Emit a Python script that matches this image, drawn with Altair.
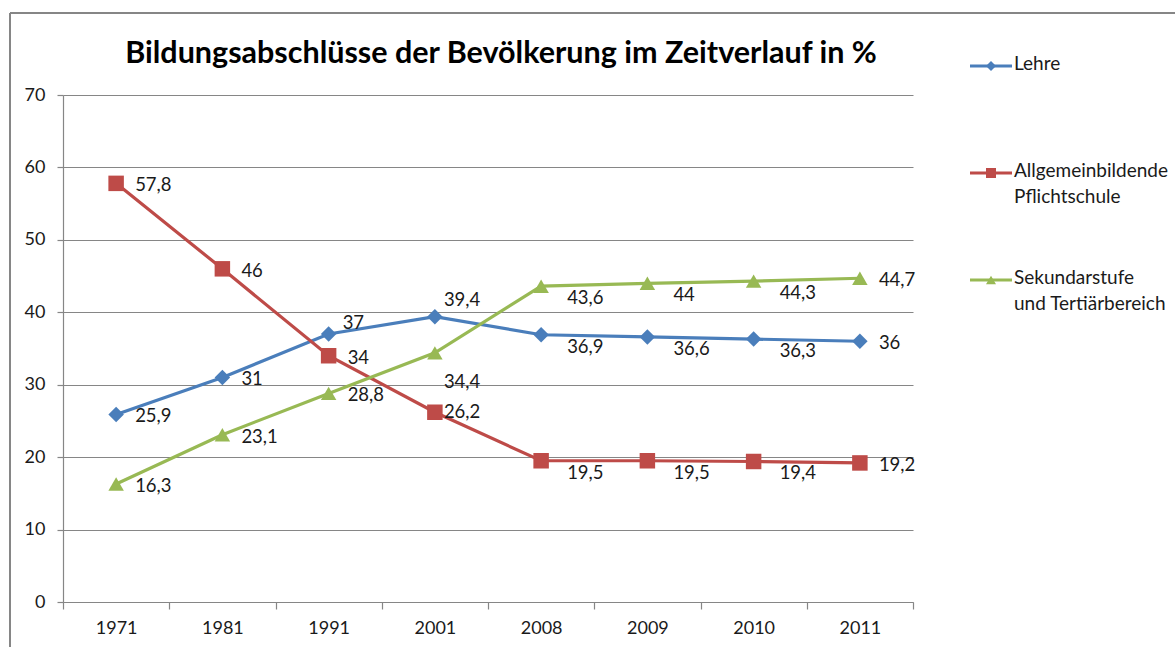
import altair as alt
import pandas as pd

title_text = "Bildungsabschlüsse der Bevölkerung im Zeitverlauf in %"
years = ["1971", "1981", "1991", "2001", "2008", "2009", "2010", "2011"]
series_names = ["Lehre", "Allgemeinbildende Pflichtschule", "Sekundarstufe und Tertiärbereich"]
legend_labels = ["Lehre", "Allgemeinbildende\nPflichtschule", "Sekundarstufe\nund Tertiärbereich"]
lehre = [25.9, 31, 37, 39.4, 36.9, 36.6, 36.3, 36]
pflicht = [57.8, 46, 34, 26.2, 19.5, 19.5, 19.4, 19.2]
sek = [16.3, 23.1, 28.8, 34.4, 43.6, 44, 44.3, 44.7]
colors = ["#4A7EBB", "#BE4B48", "#98B954"]
shapes = ["diamond", "square", "triangle-up"]

rows = []
for name, vals in zip(series_names, [lehre, pflicht, sek]):
    for y, v in zip(years, vals):
        rows.append({"year": y, "series": name, "value": v})
df = pd.DataFrame(rows)
legend_df = pd.DataFrame({"series": series_names, "label": legend_labels})

FONT = "Lato"
GRAY = "#868686"

color = alt.Color("series:N", scale=alt.Scale(domain=series_names, range=colors), legend=None)
shape = alt.Shape("series:N", scale=alt.Scale(domain=series_names, range=shapes), legend=None)

X = alt.X("year:O", scale=alt.Scale(type="band", paddingInner=0, paddingOuter=0, domain=years),
          axis=alt.Axis(title=None, labelAngle=0, tickBand="extent", grid=False))
Y = alt.Y("value:Q", scale=alt.Scale(domain=[0, 70], nice=False),
          axis=alt.Axis(title=None, values=list(range(0, 71, 10)), grid=True))

base = alt.Chart(df).transform_calculate(label="replace(toString(datum.value), '.', ',')")

lines = base.mark_line(strokeWidth=3.2).encode(x=X, y=Y, color=color, detail="series:N")
points = base.mark_point(filled=True, size=240, opacity=1).encode(x=X, y=Y, color=color, shape=shape)


def labels(expr, dx, dy):
    return base.transform_filter(expr).mark_text(
        align="left", baseline="middle", dx=dx, dy=dy, font=FONT, fontSize=18.5, color="#1a1a1a"
    ).encode(x=X, y=Y, text="label:N")


lab_layers = [
    labels("datum.year=='1971' || datum.year=='1981' || datum.year=='2011' || (datum.year=='1991' && datum.series!='Lehre')", 19, 2),
    labels("datum.year=='1991' && datum.series=='Lehre'", 14, -11),
    labels("datum.year=='2001' && datum.series=='Allgemeinbildende Pflichtschule'", 9, 0),
    labels("datum.year=='2001' && datum.series=='Lehre'", 9, -17),
    labels("datum.year=='2001' && datum.series=='Sekundarstufe und Tertiärbereich'", 9, 29),
    labels("datum.year=='2008' || datum.year=='2009' || datum.year=='2010'", 26, 12),
]

main = alt.layer(lines, points, *lab_layers)

legY = alt.Y("series:N", scale=alt.Scale(type="point", domain=series_names, range=[-29, 185], padding=0), axis=None)
lbase = alt.Chart(legend_df)
leg_rule = lbase.mark_rule(strokeWidth=3).encode(x=alt.value(907), x2=alt.value(949), y=legY, color=color)
leg_pt = lbase.mark_point(filled=True, size=100, opacity=1).encode(x=alt.value(928), y=legY, color=color, shape=shape)
leg_txt = lbase.mark_text(align="left", baseline="top", dy=-11, font=FONT, fontSize=19, color="#1a1a1a",
                          lineBreak="\n", lineHeight=26).encode(x=alt.value(951), y=legY, text="label:N")
legend = alt.layer(leg_rule, leg_pt, leg_txt)

one = alt.Chart(pd.DataFrame({"a": [0]}))
border_left = one.mark_rule(color=GRAY, strokeWidth=2).encode(x=alt.value(-53), y=alt.value(-82), y2=alt.value(560))
border_top = one.mark_rule(color=GRAY, strokeWidth=2).encode(x=alt.value(-53), x2=alt.value(1120), y=alt.value(-82))
title = one.mark_text(font=FONT, fontSize=30.5, fontWeight="bold", color="black", align="center",
                      baseline="middle").encode(x=alt.value(438), y=alt.value(-41), text=alt.value(title_text))

chart = alt.layer(main, legend, border_left, border_top, title).resolve_scale(y="independent").properties(
    width=850,
    height=507,
    autosize=alt.AutoSizeParams(type="none"),
    padding={"left": 63, "top": 95, "right": 262, "bottom": 45},
).configure_view(stroke=None).configure_axis(
    domainColor=GRAY, tickColor=GRAY, gridColor=GRAY, gridOpacity=1, domainWidth=1.2, tickWidth=1.2,
    labelFont=FONT, labelFontSize=18, labelColor="#1a1a1a",
).configure_axisX(tickSize=7, labelPadding=10).configure_axisY(tickSize=6, labelPadding=12)

chart.save("out.html", embed_options={"renderer": "svg", "actions": False})
